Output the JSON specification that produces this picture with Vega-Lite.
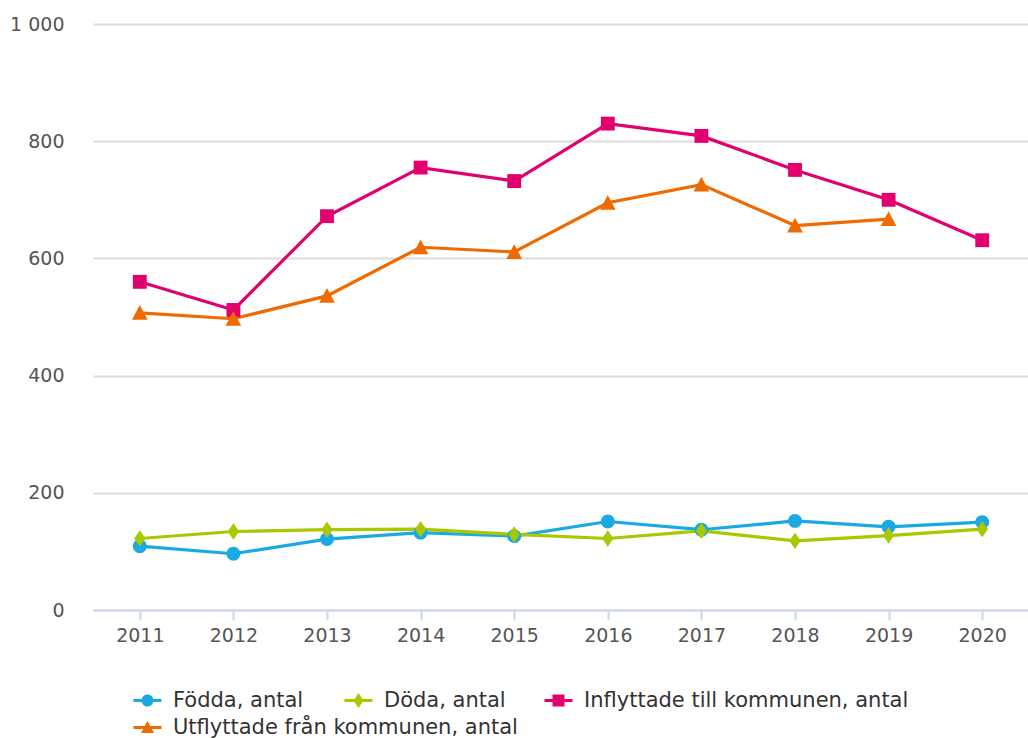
{
  "$schema": "https://vega.github.io/schema/vega-lite/v6.json",
  "width": 936,
  "height": 586,
  "autosize": {"type": "none"},
  "padding": {"left": 93, "top": 24, "right": 0, "bottom": 128},
  "config": {
    "view": {"stroke": null},
    "font": "DejaVu Sans",
    "legend": {
      "title": null,
      "orient": "none",
      "direction": "horizontal",
      "padding": 0,
      "labelOffset": 15,
      "labelFontSize": 21,
      "labelColor": "#333333",
      "labelLimit": 500,
      "symbolSize": 400,
      "symbolStrokeWidth": 0
    }
  },
  "data": {
    "values": [
      {"year": "2011", "series": "Födda, antal", "value": 109},
      {"year": "2012", "series": "Födda, antal", "value": 96},
      {"year": "2013", "series": "Födda, antal", "value": 121},
      {"year": "2014", "series": "Födda, antal", "value": 132},
      {"year": "2015", "series": "Födda, antal", "value": 126},
      {"year": "2016", "series": "Födda, antal", "value": 151},
      {"year": "2017", "series": "Födda, antal", "value": 137},
      {"year": "2018", "series": "Födda, antal", "value": 152},
      {"year": "2019", "series": "Födda, antal", "value": 142},
      {"year": "2020", "series": "Födda, antal", "value": 150},
      {"year": "2011", "series": "Döda, antal", "value": 122},
      {"year": "2012", "series": "Döda, antal", "value": 134},
      {"year": "2013", "series": "Döda, antal", "value": 137},
      {"year": "2014", "series": "Döda, antal", "value": 138},
      {"year": "2015", "series": "Döda, antal", "value": 129},
      {"year": "2016", "series": "Döda, antal", "value": 122},
      {"year": "2017", "series": "Döda, antal", "value": 135},
      {"year": "2018", "series": "Döda, antal", "value": 118},
      {"year": "2019", "series": "Döda, antal", "value": 127},
      {"year": "2020", "series": "Döda, antal", "value": 138},
      {"year": "2011", "series": "Inflyttade till kommunen, antal", "value": 560},
      {"year": "2012", "series": "Inflyttade till kommunen, antal", "value": 512},
      {"year": "2013", "series": "Inflyttade till kommunen, antal", "value": 672},
      {"year": "2014", "series": "Inflyttade till kommunen, antal", "value": 755},
      {"year": "2015", "series": "Inflyttade till kommunen, antal", "value": 732},
      {"year": "2016", "series": "Inflyttade till kommunen, antal", "value": 830},
      {"year": "2017", "series": "Inflyttade till kommunen, antal", "value": 809},
      {"year": "2018", "series": "Inflyttade till kommunen, antal", "value": 751},
      {"year": "2019", "series": "Inflyttade till kommunen, antal", "value": 700},
      {"year": "2020", "series": "Inflyttade till kommunen, antal", "value": 631},
      {"year": "2011", "series": "Utflyttade från kommunen, antal", "value": 507},
      {"year": "2012", "series": "Utflyttade från kommunen, antal", "value": 497},
      {"year": "2013", "series": "Utflyttade från kommunen, antal", "value": 536},
      {"year": "2014", "series": "Utflyttade från kommunen, antal", "value": 619},
      {"year": "2015", "series": "Utflyttade från kommunen, antal", "value": 611},
      {"year": "2016", "series": "Utflyttade från kommunen, antal", "value": 695},
      {"year": "2017", "series": "Utflyttade från kommunen, antal", "value": 726},
      {"year": "2018", "series": "Utflyttade från kommunen, antal", "value": 656},
      {"year": "2019", "series": "Utflyttade från kommunen, antal", "value": 667}
    ]
  },
  "encoding": {
    "x": {
      "field": "year",
      "type": "ordinal",
      "scale": {"paddingInner": 0, "paddingOuter": 0},
      "axis": {
        "title": null,
        "labelAngle": 0,
        "bandPosition": 0,
        "domainColor": "#ccd6eb",
        "domainWidth": 2,
        "tickColor": "#ccd6eb",
        "tickWidth": 2,
        "tickSize": 10,
        "labelFontSize": 19,
        "labelColor": "#555555",
        "labelPadding": 6
      }
    },
    "y": {
      "field": "value",
      "type": "quantitative",
      "scale": {"domain": [0, 1000]},
      "axis": {
        "title": null,
        "values": [0, 200, 400, 600, 800, 1000],
        "labelExpr": "replace(format(datum.value, ','), ',', ' ')",
        "domain": false,
        "ticks": false,
        "grid": true,
        "gridColor": "#dcdcdc",
        "gridWidth": 2,
        "labelFontSize": 19,
        "labelColor": "#555555",
        "labelPadding": 29
      }
    }
  },
  "layer": [
    {
      "mark": {"type": "line", "strokeWidth": 3.2},
      "encoding": {
        "color": {
          "field": "series",
          "type": "nominal",
          "scale": {
            "domain": ["Födda, antal", "Döda, antal", "Inflyttade till kommunen, antal", "Utflyttade från kommunen, antal"],
            "range": ["#1aa9e2", "#aac800", "#e2006f", "#ef6a00"]
          },
          "legend": null
        }
      }
    },
    {
      "mark": {"type": "point", "filled": true, "opacity": 1, "size": 300},
      "encoding": {
        "color": {"field": "series", "type": "nominal", "legend": null},
        "shape": {
          "field": "series",
          "type": "nominal",
          "scale": {
            "domain": ["Födda, antal", "Döda, antal", "Inflyttade till kommunen, antal", "Utflyttade från kommunen, antal"],
            "range": [
              "M-0.8,0A0.8,0.8,0,1,1,0.8,0A0.8,0.8,0,1,1,-0.8,0Z",
              "M0,-0.95L0.65,0L0,0.95L-0.65,0Z",
              "M-0.8,-0.8L0.8,-0.8L0.8,0.8L-0.8,0.8Z",
              "M0,-0.9L0.9,0.8L-0.9,0.8Z"
            ]
          },
          "legend": null
        }
      }
    },
    {
      "transform": [{"filter": "datum.value < 0"}],
      "mark": {"type": "point", "filled": true, "opacity": 1, "color": "#1aa9e2"},
      "encoding": {
        "shape": {
          "field": "series",
          "type": "nominal",
          "scale": {
            "domain": ["Födda, antal"],
            "range": ["M-1.4,-0.15L1.4,-0.15L1.4,0.15L-1.4,0.15ZM-0.6,0A0.6,0.6,0,1,1,0.6,0A0.6,0.6,0,1,1,-0.6,0Z"]
          },
          "legend": {
            "legendX": 44,
            "legendY": 666,
            "symbolFillColor": "#1aa9e2",
            "encode": {"symbols": {"update": {"opacity": {"value": 1}, "fill": {"value": "#1aa9e2"}, "stroke": {"value": "transparent"}, "size": {"value": 400}}}}
          }
        }
      }
    },
    {
      "transform": [{"filter": "datum.value < 0"}],
      "mark": {"type": "point", "filled": true, "opacity": 1, "color": "#aac800"},
      "encoding": {
        "shape": {
          "field": "series",
          "type": "nominal",
          "scale": {
            "domain": ["Döda, antal"],
            "range": ["M-1.4,-0.15L1.4,-0.15L1.4,0.15L-1.4,0.15ZM0,-0.75L0.5,0L0,0.75L-0.5,0Z"]
          },
          "legend": {
            "legendX": 255,
            "legendY": 666,
            "symbolFillColor": "#aac800",
            "encode": {"symbols": {"update": {"opacity": {"value": 1}, "fill": {"value": "#aac800"}, "stroke": {"value": "transparent"}, "size": {"value": 400}}}}
          }
        }
      }
    },
    {
      "transform": [{"filter": "datum.value < 0"}],
      "mark": {"type": "point", "filled": true, "opacity": 1, "color": "#e2006f"},
      "encoding": {
        "shape": {
          "field": "series",
          "type": "nominal",
          "scale": {
            "domain": ["Inflyttade till kommunen, antal"],
            "range": ["M-1.4,-0.15L1.4,-0.15L1.4,0.15L-1.4,0.15ZM-0.6,-0.6L0.6,-0.6L0.6,0.6L-0.6,0.6Z"]
          },
          "legend": {
            "legendX": 455,
            "legendY": 666,
            "symbolFillColor": "#e2006f",
            "encode": {"symbols": {"update": {"opacity": {"value": 1}, "fill": {"value": "#e2006f"}, "stroke": {"value": "transparent"}, "size": {"value": 400}}}}
          }
        }
      }
    },
    {
      "transform": [{"filter": "datum.value < 0"}],
      "mark": {"type": "point", "filled": true, "opacity": 1, "color": "#ef6a00"},
      "encoding": {
        "shape": {
          "field": "series",
          "type": "nominal",
          "scale": {
            "domain": ["Utflyttade från kommunen, antal"],
            "range": ["M-1.4,-0.15L1.4,-0.15L1.4,0.15L-1.4,0.15ZM0,-0.65L0.65,0.55L-0.65,0.55Z"]
          },
          "legend": {
            "legendX": 44,
            "legendY": 693,
            "symbolFillColor": "#ef6a00",
            "encode": {"symbols": {"update": {"opacity": {"value": 1}, "fill": {"value": "#ef6a00"}, "stroke": {"value": "transparent"}, "size": {"value": 400}}}}
          }
        }
      }
    }
  ],
  "resolve": {"scale": {"shape": "independent"}}
}
